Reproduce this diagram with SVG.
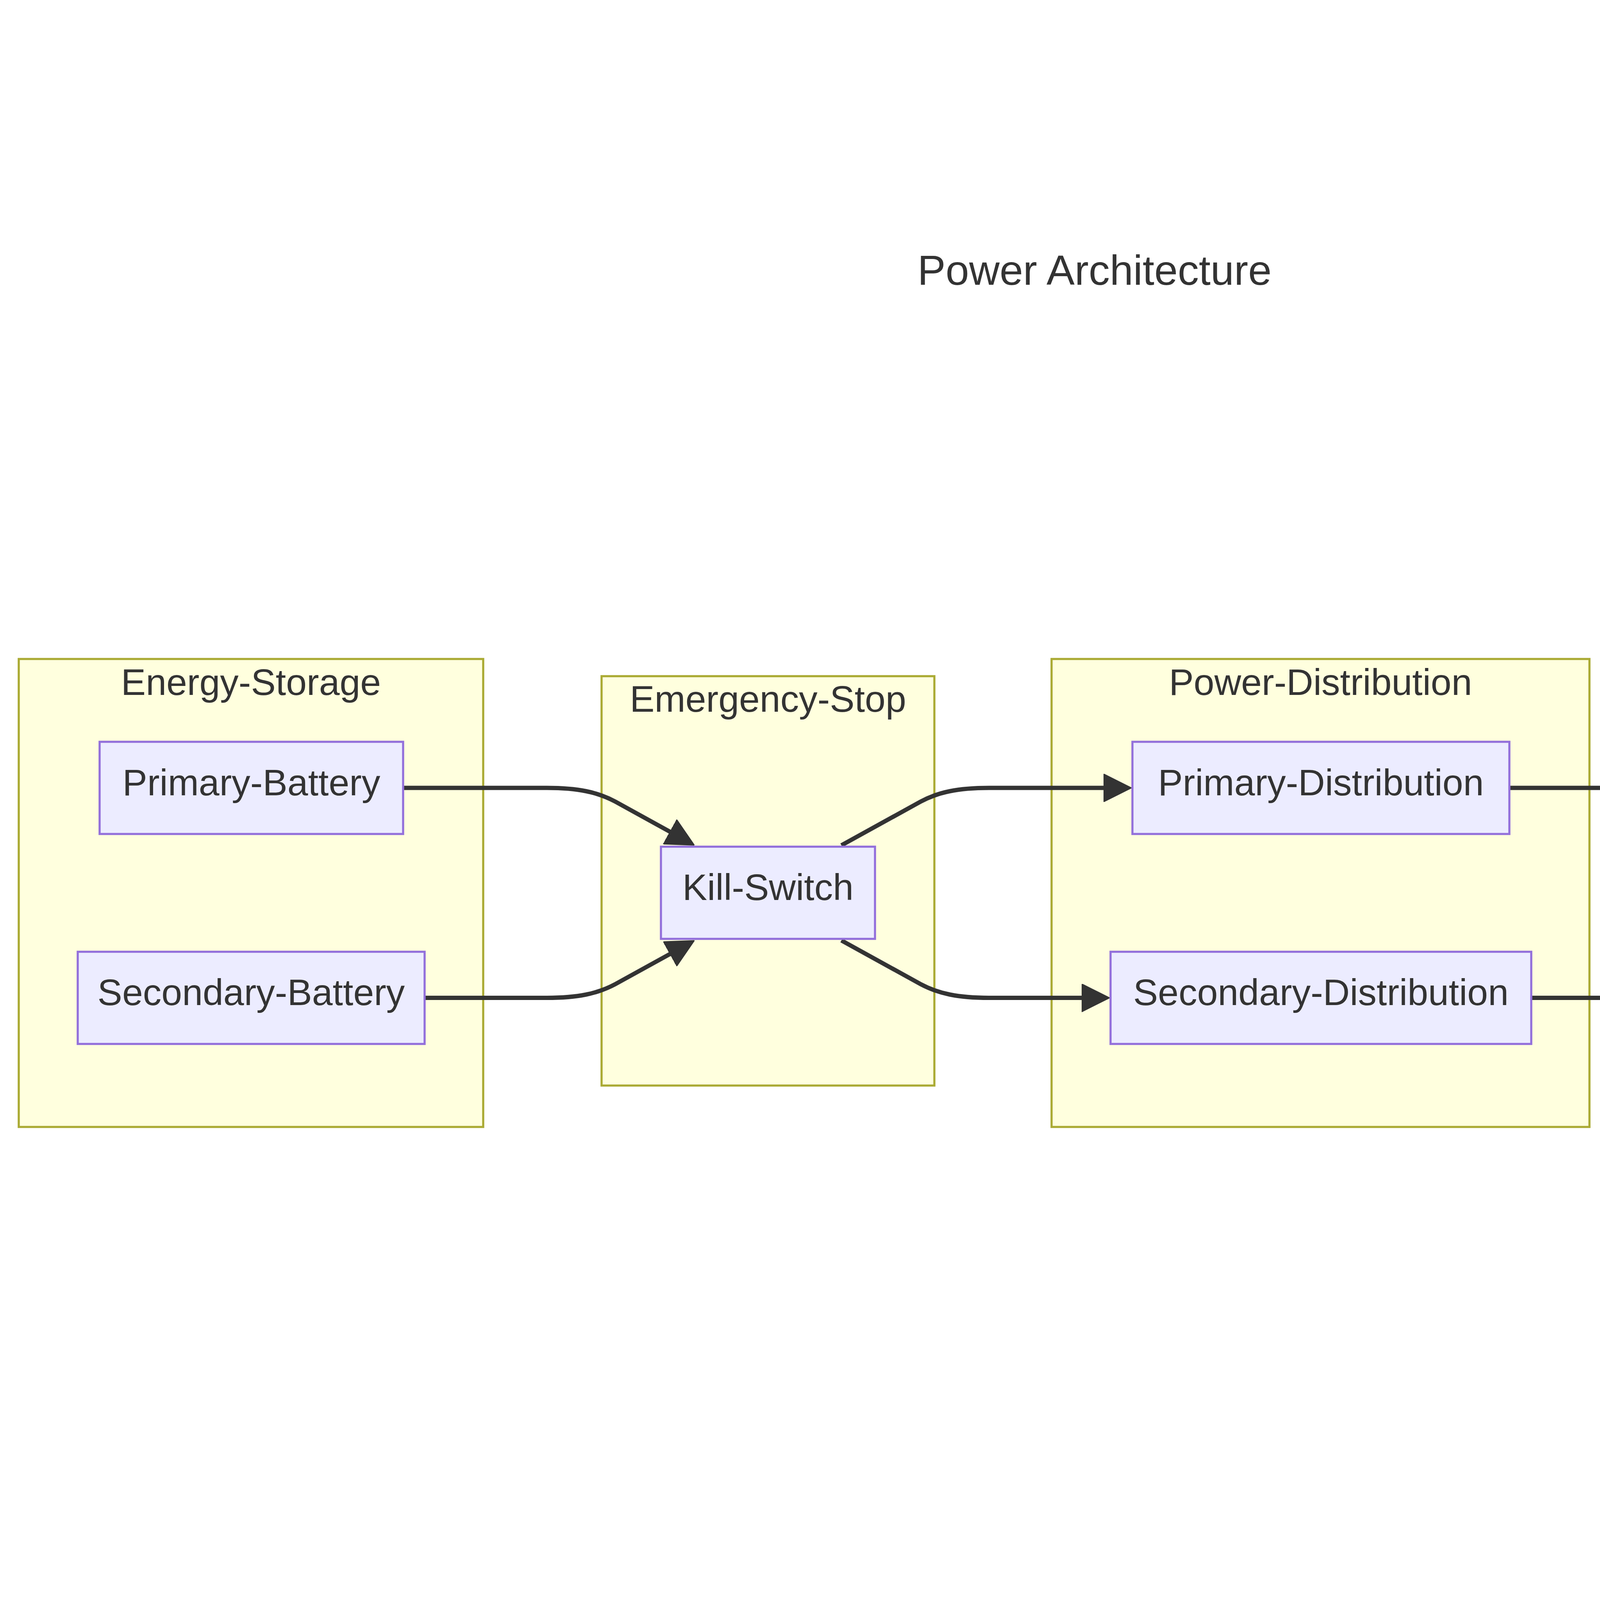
<svg xmlns="http://www.w3.org/2000/svg" width="5603" height="4320" viewBox="0 0 5603 4320">
<style>
.cluster rect{fill:#ffffde;stroke:#aaaa33;stroke-width:5.4}
.node rect{fill:#ECECFF;stroke:#9370DB;stroke-width:5.4}
text{font-family:"Liberation Sans",Arial,sans-serif;fill:#333333;text-anchor:middle}
.lbl{font-size:95px}
.title{font-size:108px}
.edge{fill:none;stroke:#333333;stroke-width:11;marker-end:url(#arrow)}
</style>
<defs>
<marker id="arrow" viewBox="0 0 10 10" refX="1" refY="5" markerUnits="userSpaceOnUse" markerWidth="72" markerHeight="72" orient="auto">
<path d="M0,0 L10,5 L0,10 z" fill="#333333" stroke="#333333" stroke-width="0.3" stroke-linejoin="round"/>
</marker>
</defs>
<rect width="5603" height="4320" fill="#ffffff"/>
<text class="title" x="2802" y="729">Power Architecture</text>

<g id="cluster-energy-storage" class="cluster">
<rect x="48" y="1687" width="1189" height="1198"/>
<text class="lbl" x="642.5" y="1779">Energy-Storage</text>
</g>
<g id="cluster-emergency-stop" class="cluster">
<rect x="1540" y="1731" width="852" height="1048"/>
<text class="lbl" x="1966" y="1822">Emergency-Stop</text>
</g>
<g id="cluster-power-distribution" class="cluster">
<rect x="2692" y="1687" width="1377" height="1198"/>
<text class="lbl" x="3380.5" y="1779">Power-Distribution</text>
</g>
<g id="cluster-downstream-devices" class="cluster">
<rect x="4373" y="881" width="1182" height="2807"/>
<text class="lbl" x="4964" y="975">Downstream-Devices</text>
</g>

<g id="connectors">
<path class="edge" d="M1032,2017 L1400,2017 C1480,2017 1530,2028 1575,2052 L1721,2132.5"/>
<path class="edge" d="M1087,2554.5 L1400,2554.5 C1480,2554.5 1530,2543.5 1575,2519.5 L1721,2439"/>
<path class="edge" d="M2154,2164 L2357,2052 C2402,2028 2452,2017 2532,2017 L2832,2017"/>
<path class="edge" d="M2154,2407.5 L2357,2519.5 C2402,2543.5 2452,2554.5 2532,2554.5 L2776,2554.5"/>
<path class="edge" d="M3864,2017 L4110,2017 C4180,2017 4240,2026 4306.7,2048.7"/>
<path class="edge" d="M3920,2554.5 L4110,2554.5 C4180,2554.5 4240,2545.5 4306.7,2522.8"/>
</g>

<g id="node-primary-battery" class="node">
<rect x="255" y="1899" width="777" height="236"/>
<text class="lbl" x="643.5" y="2035.5">Primary-Battery</text>
</g>
<g id="node-secondary-battery" class="node">
<rect x="199" y="2436.5" width="888" height="236"/>
<text class="lbl" x="643" y="2573">Secondary-Battery</text>
</g>
<g id="node-kill-switch" class="node">
<rect x="1692" y="2167.5" width="548" height="236"/>
<text class="lbl" x="1966" y="2304">Kill-Switch</text>
</g>
<g id="node-primary-distribution" class="node">
<rect x="2899" y="1899" width="965" height="236"/>
<text class="lbl" x="3381.5" y="2035.5">Primary-Distribution</text>
</g>
<g id="node-secondary-distribution" class="node">
<rect x="2843" y="2436.5" width="1077" height="236"/>
<text class="lbl" x="3381.5" y="2573">Secondary-Distribution</text>
</g>
<g id="node-dcdc-converters" class="node">
<rect x="4524" y="1093" width="880" height="236"/>
<text class="lbl" x="4964" y="1229.5">DC/DC-Converters</text>
</g>
<g id="node-raspberry-pi" class="node">
<rect x="4647" y="1630.5" width="634" height="236"/>
<text class="lbl" x="4964" y="1767">Raspberry-Pi</text>
</g>
<g id="node-motors" class="node">
<rect x="4774" y="2167.5" width="380" height="236"/>
<text class="lbl" x="4964" y="2304">Motors</text>
</g>
<g id="node-sensors" class="node">
<rect x="4758" y="2705.5" width="412" height="236"/>
<text class="lbl" x="4964" y="2842">Sensors</text>
</g>
<g id="node-more" class="node">
<rect x="4864" y="3243" width="200" height="236"/>
<text class="lbl" x="4968" y="3379.5" letter-spacing="9">...</text>
</g>
</svg>
